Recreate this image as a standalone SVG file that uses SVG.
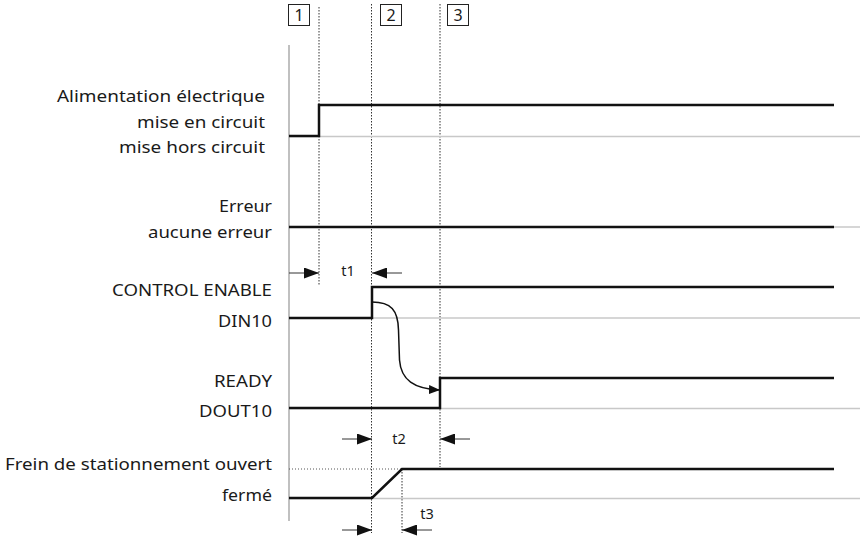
<svg xmlns="http://www.w3.org/2000/svg" width="860" height="538" viewBox="0 0 860 538">
<defs>
<style>
.lbl{font-family:"Noto Sans","Open Sans","DejaVu Sans",sans-serif;font-size:17px;fill:#1a1a1a;text-anchor:end}
.tl{font-family:"Noto Sans","Open Sans","DejaVu Sans",sans-serif;font-size:14.5px;fill:#1a1a1a;text-anchor:middle}
.box{fill:#fff;stroke:#222;stroke-width:1}
.base{stroke:#c8c8c8;stroke-width:1.5;fill:none}
.sig{stroke:#111;stroke-width:2.5;fill:none;stroke-linejoin:miter}
.dot{stroke:#333;stroke-width:1;stroke-dasharray:1.5,1.5;fill:none}
.dim{stroke:#333;stroke-width:1;fill:none}
</style>
<marker id="ah" viewBox="0 0 15 11" refX="15" refY="5.5" markerWidth="15" markerHeight="11" markerUnits="userSpaceOnUse" orient="auto">
<path d="M0,0 L15,5.5 L0,11 Z" fill="#111"/>
</marker>
<marker id="ah2" viewBox="0 0 11 9" refX="11" refY="4.5" markerWidth="11" markerHeight="9" markerUnits="userSpaceOnUse" orient="auto">
<path d="M0,0 L11,4.5 L0,9 Z" fill="#111"/>
</marker>
</defs>
<g id="axis">
<line x1="289" y1="45" x2="289" y2="521" stroke="#c0c0c0" stroke-width="2"/>
</g>
<g id="markers">
<rect class="box" x="288.5" y="4.5" width="21" height="21"/>
<text class="tl" x="299" y="21" style="font-size:16px">1</text>
<rect class="box" x="380.5" y="4.5" width="21" height="21"/>
<text class="tl" x="391" y="21" style="font-size:16px">2</text>
<rect class="box" x="447.5" y="4.5" width="21" height="21"/>
<text class="tl" x="458" y="21" style="font-size:16px">3</text>
<line class="dot" x1="319" y1="7" x2="319" y2="285"/>
<line class="dot" x1="371.5" y1="4" x2="371.5" y2="533"/>
<line class="dot" x1="440" y1="4" x2="440" y2="467"/>
<line class="dot" x1="402" y1="469" x2="402" y2="533"/>
</g>
<g id="power">
<text class="lbl" x="265" y="102" textLength="208" lengthAdjust="spacingAndGlyphs">Alimentation électrique</text>
<text class="lbl" x="265" y="128" textLength="128" lengthAdjust="spacingAndGlyphs">mise en circuit</text>
<text class="lbl" x="265" y="153" textLength="146" lengthAdjust="spacingAndGlyphs">mise hors circuit</text>
<line class="base" x1="289" y1="136.5" x2="860" y2="136.5"/>
<path class="sig" d="M289,136 L319,136 L319,105 L834,105"/>
</g>
<g id="error">
<text class="lbl" x="272" y="212" textLength="53" lengthAdjust="spacingAndGlyphs">Erreur</text>
<text class="lbl" x="272" y="238" textLength="124" lengthAdjust="spacingAndGlyphs">aucune erreur</text>
<line class="base" x1="289" y1="227" x2="860" y2="227"/>
<path class="sig" d="M289,227 L834,227"/>
</g>
<g id="control-enable">
<text class="lbl" x="272" y="296" textLength="160" lengthAdjust="spacingAndGlyphs">CONTROL ENABLE</text>
<text class="lbl" x="272" y="327" textLength="54" lengthAdjust="spacingAndGlyphs">DIN10</text>
<line class="base" x1="289" y1="318" x2="860" y2="318"/>
<path class="sig" d="M289,318 L372,318 L372,287 L834,287"/>
</g>
<g id="ready">
<text class="lbl" x="272" y="387" textLength="58" lengthAdjust="spacingAndGlyphs">READY</text>
<text class="lbl" x="272" y="417" textLength="73" lengthAdjust="spacingAndGlyphs">DOUT10</text>
<line class="base" x1="289" y1="408.5" x2="860" y2="408.5"/>
<path class="sig" d="M289,408 L440,408 L440,378 L834,378"/>
</g>
<g id="brake">
<text class="lbl" x="272" y="470" textLength="267" lengthAdjust="spacingAndGlyphs">Frein de stationnement ouvert</text>
<text class="lbl" x="272" y="501" textLength="50" lengthAdjust="spacingAndGlyphs">fermé</text>
<line class="base" x1="289" y1="498.5" x2="860" y2="498.5"/>
<line x1="289" y1="469" x2="402" y2="469" stroke="#555" stroke-width="1" stroke-dasharray="1,2"/>
<path class="sig" d="M289,498 L372,498 L402,469 L834,469"/>
</g>
<g id="connectors">
<path d="M372,302 C391,302 398,310 398.5,330 L399.5,360 C401,380 414,389 440,390" fill="none" stroke="#111" stroke-width="1.5" marker-end="url(#ah2)"/>
<line class="dim" x1="289" y1="273" x2="319" y2="273" marker-end="url(#ah)"/>
<line class="dim" x1="402" y1="273" x2="372" y2="273" marker-end="url(#ah)"/>
<text class="tl" x="348" y="276">t1</text>
<line class="dim" x1="342" y1="439" x2="372" y2="439" marker-end="url(#ah)"/>
<line class="dim" x1="470" y1="439" x2="440" y2="439" marker-end="url(#ah)"/>
<text class="tl" x="399" y="444">t2</text>
<line class="dim" x1="342" y1="530" x2="372" y2="530" marker-end="url(#ah)"/>
<line class="dim" x1="432" y1="530" x2="402" y2="530" marker-end="url(#ah)"/>
<text class="tl" x="427" y="519">t3</text>
</g>
</svg>
